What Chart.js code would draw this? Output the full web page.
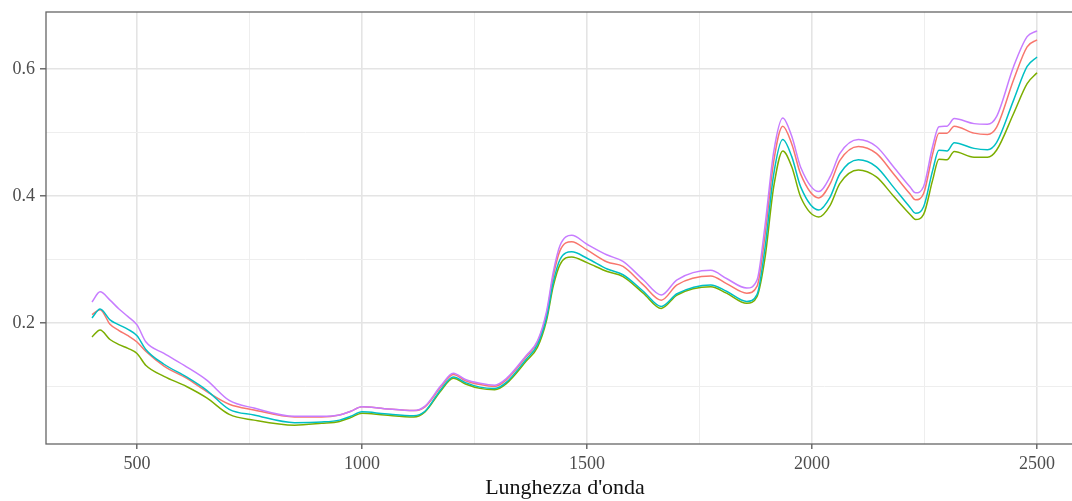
<!DOCTYPE html>
<html>
<head>
<meta charset="utf-8">
<script src="https://cdn.jsdelivr.net/npm/chart.js@4"></script>
<style>
html,body{margin:0;padding:0;background:#fff;overflow:hidden;}
#wrap{width:1100px;height:501px;}
</style>
</head>
<body>
<div id="wrap"><canvas id="c" width="1100" height="501"></canvas></div>
<script>
const wavelengths = [400,418,440,460,480,500,520,560,610,655,705,760,850,910,950,975,1000,1050,1115,1140,1175,1203,1230,1262,1295,1320,1365,1390,1410,1425,1440,1466,1500,1545,1580,1625,1665,1700,1775,1810,1855,1878,1895,1915,1935,1955,1975,2015,2040,2062,2103,2143,2181,2218,2230,2248,2268,2282,2300,2316,2360,2390,2410,2448,2478,2500];

const serieRed = [0.213,0.221,0.198,0.188,0.180,0.170,0.155,0.132,0.113,0.092,0.072,0.063,0.052,0.052,0.055,0.061,0.068,0.065,0.062,0.068,0.099,0.119,0.109,0.103,0.100,0.110,0.147,0.170,0.214,0.274,0.314,0.328,0.315,0.296,0.289,0.260,0.236,0.260,0.274,0.262,0.247,0.258,0.335,0.455,0.510,0.482,0.434,0.397,0.419,0.456,0.478,0.467,0.435,0.403,0.394,0.404,0.466,0.499,0.499,0.510,0.499,0.497,0.508,0.583,0.635,0.646];

const serieGreen = [0.178,0.189,0.174,0.166,0.160,0.152,0.133,0.116,0.100,0.082,0.056,0.047,0.039,0.042,0.045,0.051,0.058,0.055,0.052,0.060,0.093,0.113,0.104,0.097,0.095,0.104,0.140,0.162,0.204,0.258,0.292,0.304,0.295,0.281,0.273,0.247,0.223,0.244,0.257,0.247,0.231,0.242,0.300,0.415,0.471,0.446,0.398,0.367,0.385,0.420,0.441,0.430,0.400,0.371,0.363,0.371,0.425,0.458,0.457,0.470,0.461,0.461,0.472,0.530,0.577,0.594];

const serieCyan = [0.208,0.222,0.205,0.197,0.190,0.180,0.158,0.135,0.115,0.094,0.064,0.055,0.043,0.044,0.047,0.053,0.060,0.057,0.054,0.061,0.095,0.115,0.106,0.099,0.097,0.106,0.143,0.166,0.208,0.264,0.300,0.312,0.302,0.285,0.276,0.250,0.226,0.246,0.260,0.250,0.234,0.245,0.315,0.435,0.489,0.462,0.414,0.378,0.398,0.435,0.457,0.446,0.414,0.382,0.373,0.383,0.440,0.472,0.471,0.484,0.475,0.473,0.484,0.551,0.604,0.619];

const seriePurple = [0.233,0.249,0.236,0.222,0.210,0.197,0.170,0.152,0.131,0.110,0.078,0.066,0.053,0.053,0.055,0.061,0.068,0.065,0.062,0.069,0.101,0.121,0.111,0.105,0.102,0.112,0.149,0.172,0.218,0.280,0.322,0.338,0.324,0.307,0.297,0.268,0.244,0.268,0.283,0.270,0.255,0.268,0.350,0.470,0.523,0.494,0.445,0.407,0.430,0.467,0.489,0.478,0.446,0.414,0.405,0.415,0.478,0.509,0.510,0.522,0.514,0.513,0.525,0.604,0.651,0.660];

const xTickLabels = [500,1000,1500,2000,2500];
const xMinorGrid = [750,1250,1750,2250];
const yTickLabels = [0.2,0.4,0.6];
const yMinorGrid = [0.1,0.3,0.5];
const xTitle = "Lunghezza d'onda";

const X_MIN = 297.8, X_MAX = 2604.4, Y_MIN = 0.0094, Y_MAX = 0.6898;

function pts(arr){ return wavelengths.map((w,i)=>({x:w,y:arr[i]})); }
function isIn(v, list){ return list.some(t=>Math.abs(t-v)<1e-6); }
function buildTicks(lo, hi, major, minor){
  const vals = [lo, ...major, ...minor, hi].sort((a,b)=>a-b);
  return vals.map(v=>({value:v}));
}

const panelBorder = {
  id:'panelBorder',
  afterDatasetsDraw(chart){
    const a = chart.chartArea, ctx = chart.ctx;
    ctx.save();
    ctx.strokeStyle = '#666';
    ctx.lineWidth = 1.3;
    ctx.strokeRect(a.left, a.top, a.right-a.left, a.bottom-a.top);
    ctx.restore();
  }
};

const mk = (label, arr, color) => ({
  label, data: pts(arr), borderColor: color, backgroundColor: color,
  borderWidth: 1.5, pointRadius: 0, fill: false, cubicInterpolationMode: 'monotone'
});

const gridColor = (major, minor) => (c) => isIn(c.tick.value, major) ? '#e4e4e4' : (isIn(c.tick.value, minor) ? '#eeeeee' : 'rgba(0,0,0,0)');
const gridWidth = (major) => (c) => isIn(c.tick.value, major) ? 1.6 : 1;
const tickCol = (major) => (c) => isIn(c.tick.value, major) ? '#555' : 'rgba(0,0,0,0)';
const serifFont = '"Liberation Serif", "DejaVu Serif", serif';

new Chart(document.getElementById('c'), {
  type: 'line',
  data: {
    datasets: [
      mk('D', seriePurple, '#C77CFF'),
      mk('C', serieCyan, '#00BFC4'),
      mk('B', serieGreen, '#7CAE00'),
      mk('A', serieRed, '#F8766D')
    ]
  },
  options: {
    responsive: false,
    animation: false,
    events: [],
    layout: { padding: { left: 0, right: 16, top: 12, bottom: 0 } },
    plugins: { legend: { display: false }, tooltip: { enabled: false } },
    scales: {
      x: {
        type: 'linear', min: X_MIN, max: X_MAX,
        afterBuildTicks(s){ s.ticks = buildTicks(X_MIN, X_MAX, xTickLabels, xMinorGrid); },
        afterFit(s){ s.height = 57; s.paddingLeft = 0; s.paddingRight = 0; },
        border: { display: false },
        grid: {
          color: gridColor(xTickLabels, xMinorGrid),
          lineWidth: gridWidth(xTickLabels),
          tickColor: tickCol(xTickLabels),
          tickLength: 5, tickWidth: 1.3
        },
        ticks: {
          autoSkip: false, maxRotation: 0,
          padding: 4, color: '#4d4d4d',
          font: { family: serifFont, size: 18 },
          callback: (v)=> isIn(v, xTickLabels) ? String(v) : ''
        },
        title: {
          display: true, text: xTitle, color: '#111',
          font: { family: serifFont, size: 22 },
          padding: { top: 0, bottom: 0 }
        }
      },
      y: {
        type: 'linear', min: Y_MIN, max: Y_MAX,
        afterBuildTicks(s){ s.ticks = buildTicks(Y_MIN, Y_MAX, yTickLabels, yMinorGrid); },
        afterFit(s){ s.width = 46; s.paddingTop = 0; s.paddingBottom = 0; },
        border: { display: false },
        grid: {
          color: gridColor(yTickLabels, yMinorGrid),
          lineWidth: gridWidth(yTickLabels),
          tickColor: tickCol(yTickLabels),
          tickLength: 6, tickWidth: 1.3
        },
        ticks: {
          autoSkip: false,
          padding: 5, color: '#4d4d4d',
          font: { family: serifFont, size: 18 },
          callback: (v)=> isIn(v, yTickLabels) ? String(v) : ''
        }
      }
    }
  },
  plugins: [panelBorder]
});
</script>
</body>
</html>
